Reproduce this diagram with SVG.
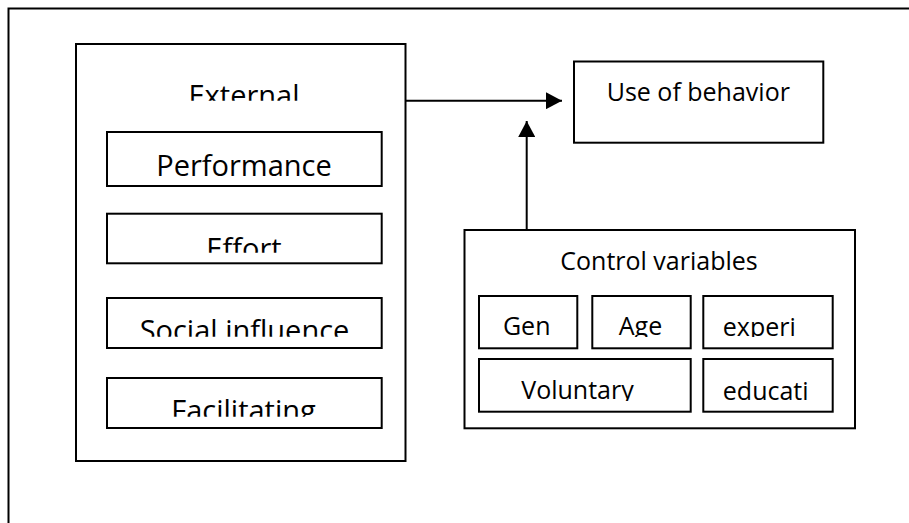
<svg xmlns="http://www.w3.org/2000/svg" width="909" height="523" viewBox="0 0 909 523">
<style>
.box{fill:#fff;stroke:#000;stroke-width:2}
.frame{fill:none;stroke:#000;stroke-width:2}
.t{font-family:"Open Sans","Noto Sans","Liberation Sans",sans-serif;fill:#000}
.big{font-size:29px}
.mid{font-size:25px}
.edge{fill:none;stroke:#000;stroke-width:2}
</style>
<defs>
<marker id="ah" markerWidth="16" markerHeight="17" refX="16" refY="8.5" orient="auto" markerUnits="userSpaceOnUse">
<path d="M0,0 L16,8.5 L0,17 Z" fill="#000"/>
</marker>
<clipPath id="cExt"><rect x="76" y="44" width="329" height="56.7"/></clipPath>
<clipPath id="cEff"><rect x="107" y="214" width="275" height="38.7"/></clipPath>
<clipPath id="cSoc"><rect x="107" y="298" width="275" height="38.7"/></clipPath>
<clipPath id="cFac"><rect x="107" y="378" width="275" height="38.7"/></clipPath>
<clipPath id="cRow1"><rect x="470" y="297" width="380" height="40"/></clipPath>
<clipPath id="cRow2"><rect x="470" y="360" width="380" height="41"/></clipPath>
</defs>
<rect class="frame" x="8.5" y="8.5" width="1000" height="1000"/>
<g id="connectors">
<path class="edge" d="M405,100.7 L562,100.7" marker-end="url(#ah)"/>
<path class="edge" d="M526.7,229 L526.7,121" marker-end="url(#ah)"/>
</g>
<g id="external">
<rect class="box" x="76" y="44" width="329.5" height="417"/>
<text class="t big" x="244" y="105.7" text-anchor="middle" clip-path="url(#cExt)">External</text>
</g>
<g id="performance">
<rect class="box" x="107" y="132" width="274.7" height="54"/>
<text class="t big" x="244" y="176" text-anchor="middle">Performance</text>
</g>
<g id="effort">
<rect class="box" x="107" y="213.7" width="274.7" height="49.6"/>
<text class="t big" x="244" y="259" text-anchor="middle" clip-path="url(#cEff)">Effort</text>
</g>
<g id="social">
<rect class="box" x="107" y="298" width="274.7" height="50"/>
<text class="t big" x="244.5" y="340.7" text-anchor="middle" clip-path="url(#cSoc)">Social influence</text>
</g>
<g id="facilitating">
<rect class="box" x="107" y="378" width="274.7" height="50"/>
<text class="t big" x="243.5" y="420.7" text-anchor="middle" clip-path="url(#cFac)">Facilitating</text>
</g>
<g id="use">
<rect class="box" x="574" y="61.5" width="249.3" height="81.2"/>
<text class="t mid" x="698.3" y="100.5" text-anchor="middle">Use of behavior</text>
</g>
<g id="control">
<rect class="box" x="464.5" y="230" width="390.5" height="198.3"/>
<text class="t mid" x="659" y="269.5" text-anchor="middle">Control variables</text>
</g>
<g id="gen">
<rect class="box" x="479" y="296" width="98.3" height="52.3"/>
<text class="t mid" x="526.7" y="335" text-anchor="middle" clip-path="url(#cRow1)">Gen</text>
</g>
<g id="age">
<rect class="box" x="592.3" y="296" width="98.4" height="52.3"/>
<text class="t mid" x="640.5" y="335" text-anchor="middle" clip-path="url(#cRow1)">Age</text>
</g>
<g id="experi">
<rect class="box" x="703.3" y="296" width="129.4" height="52.3"/>
<text class="t mid" x="722.8" y="335.5" clip-path="url(#cRow1)">experi</text>
</g>
<g id="voluntary">
<rect class="box" x="479" y="359" width="211.7" height="52.7"/>
<text class="t mid" x="577.5" y="399" text-anchor="middle" clip-path="url(#cRow2)">Voluntary</text>
</g>
<g id="educati">
<rect class="box" x="703.3" y="359" width="129.4" height="52.7"/>
<text class="t mid" x="722.8" y="399.5" clip-path="url(#cRow2)">educati</text>
</g>
</svg>
